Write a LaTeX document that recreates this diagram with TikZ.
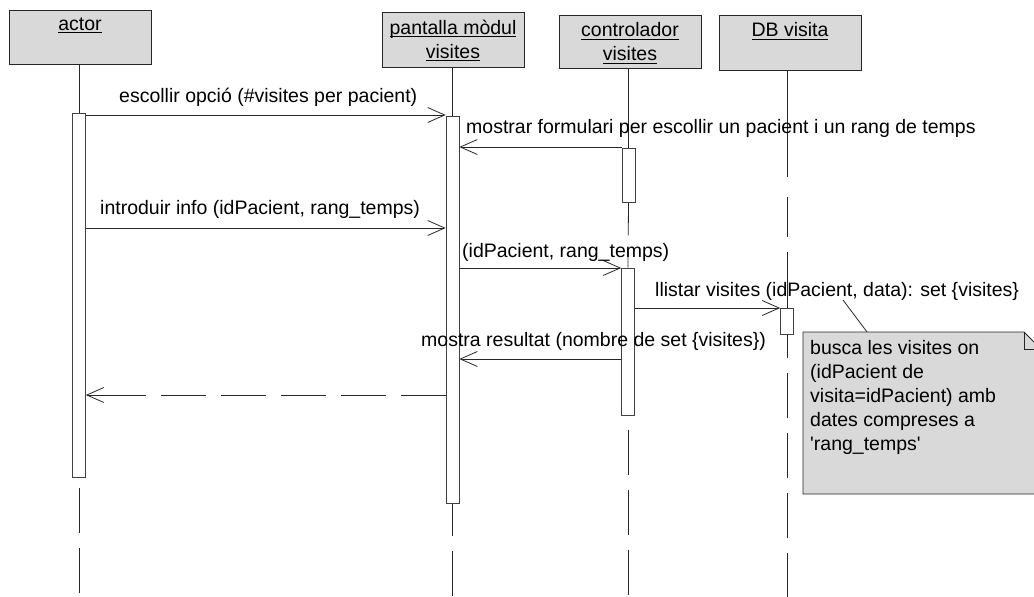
\documentclass[tikz,border=0pt]{standalone}
\usepackage{fontspec}
\setmainfont{Liberation Sans}
\newfontfamily\lsans{Liberation Sans}
\usetikzlibrary{arrows.meta}
\newcommand\uln[1]{\setbox0\hbox{#1}\rlap{\rule[-2.6pt]{\wd0}{0.9pt}}\box0}
\begin{document}
\begin{tikzpicture}[x=1pt,y=-1pt,
  every node/.style={font=\lsans\fontsize{19.5}{24}\selectfont},
  objbox/.style={draw=black!85, line width=0.9pt, fill=black!15, minimum width=142pt, minimum height=54pt, inner sep=0pt},
  objlabel/.style={anchor=north, yshift=-8pt, inner sep=0pt, align=center},
  actbar/.style={draw=black!75, line width=0.7pt, fill=white, minimum width=13pt, inner sep=0pt},
  life/.style={draw=black!85, line width=0.8pt},
  msg/.style={draw=black!85, line width=0.8pt, -{Straight Barb[length=17pt,width=15pt,line width=0.8pt]}},
  retdash/.style={draw=black!85, line width=0.8pt, dash pattern=on 45pt off 15pt},
  lbl/.style={anchor=west, inner sep=0pt, text height=14pt, text depth=4pt},
  notebox/.style={draw=black!85, line width=0.8pt, fill=black!15},
]
\useasboundingbox (0,0) rectangle (1034,597);
\fill[white] (0,0) rectangle (1034,597);
\clip (0,0) rectangle (1034,597);

% objects
\node[objbox, label={[objlabel]north:\uln{actor}}] (actor) at (80,37) {};
\node[objbox, minimum height=55pt, label={[objlabel]north:\uln{pantalla mòdul}\\\uln{visites}}] (pant) at (453,39.5) {};
\node[objbox, minimum height=53pt, label={[objlabel]north:\uln{controlador}\\\uln{visites}}] (ctrl) at (630,41.5) {};
\node[objbox, minimum height=55pt, label={[objlabel]north:\uln{DB visita}}] (db) at (790,42.5) {};

% activation bars
\node[actbar, minimum height=364pt] (actA) at (79,295) {};
\node[actbar, minimum height=387pt] (panA) at (452.5,309.5) {};
\node[actbar, minimum height=54pt] (ctlA1) at (628.5,175) {};
\node[actbar, minimum height=147pt] (ctlA2) at (628,341.5) {};
\node[actbar, minimum height=26pt] (dbA) at (787,321) {};

% lifeline ends
\coordinate (actEnd) at (79,597);
\coordinate (panEnd) at (452.5,597);
\coordinate (ctlEnd) at (628,597);
\coordinate (dbEnd) at (787,597);

% lifelines
\draw[life] (actor.south -| actA.north) -- (actA.north);
\draw[life, dash pattern=on 45pt off 15pt, dash phase=49pt] (actA.south) -- (actEnd);
\draw[life] (pant.south -| panA.north) -- (panA.north);
\draw[life, dash pattern=on 45pt off 15pt, dash phase=12pt] (panA.south) -- (panEnd);
\draw[life] (ctrl.south -| ctlA1.north) -- (ctlA1.north);
\draw[life, dash pattern=on 33pt off 16pt on 30pt off 0pt] (ctlA1.south) -- (ctlA2.north);
\draw[life, dash pattern=on 45pt off 15pt, dash phase=45pt] (ctlA2.south) -- (ctlEnd);
\draw[life, dash pattern=on 107pt off 20pt on 40pt off 15pt on 70pt off 0pt] (db.south -| dbA.north) -- (dbA.north);
\draw[life, dash pattern=on 45pt off 15pt, dash phase=21pt] (dbA.south) -- (dbEnd);

% redraw bars on top of lifelines
\node[actbar, minimum height=364pt] at (actA) {};
\node[actbar, minimum height=387pt] at (panA) {};
\node[actbar, minimum height=54pt] at (ctlA1) {};
\node[actbar, minimum height=147pt] at (ctlA2) {};
\node[actbar, minimum height=26pt] at (dbA) {};

% message levels
\coordinate (y1) at (0,115);
\coordinate (y2) at (0,147);
\coordinate (y3) at (0,228);
\coordinate (y4) at (0,268);
\coordinate (y5) at (0,308);
\coordinate (y6) at (0,359);
\coordinate (y7) at (0,395);
\coordinate (rx) at (140,395);

% messages
\draw[msg] (actA.east |- y1) -- (panA.west |- y1);
\node[lbl] (l1) at (119,97) {escollir opció (\#visites per pacient)};
\draw[msg] (ctlA1.west |- y2) -- (panA.east |- y2);
\node[lbl] (l2) at (466,128) {mostrar formulari per escollir un pacient i un rang de temps};
\draw[msg] (actA.east |- y3) -- (panA.west |- y3);
\node[lbl] (l3) at (100,209) {introduir info (idPacient, rang\_temps)};
\draw[msg] (panA.east |- y4) -- (ctlA2.west |- y4);
\node[lbl] (l4) at (462,252) {(idPacient, rang\_temps)};
\draw[msg] (ctlA2.east |- y5) -- (dbA.west |- y5);
\node[lbl] (l5) at (655,291) {llistar visites (idPacient, data): set \{visites\}};
\draw[msg] (ctlA2.west |- y6) -- (panA.east |- y6);
\node[lbl] (l6) at (421,341) {mostra resultat (nombre de set \{visites\})};
\draw[retdash] (panA.west |- y7) -- (rx);
\draw[msg] (rx) -- (actA.east |- y7);

% note
\coordinate (nA) at (803,332);
\coordinate (nB) at (1024,332);
\coordinate (nC) at (1041,349);
\coordinate (nD) at (1041,494);
\coordinate (nE) at (803,494);
\coordinate (nF) at (1024,349);
\draw[notebox] (nA) -- (nB) -- (nC) -- (nD) -- (nE) -- cycle;
\draw[draw=black!85, line width=0.8pt] (nB) -- (nF) -- (nC);
\node[anchor=north west, inner sep=0pt, align=left] (notetext) at (810,340)
  {busca les visites on\\(idPacient de\\visita=idPacient) amb\\dates compreses a\\'rang\_temps'};
\coordinate (nc) at (843,300);
\coordinate (nt) at (867,332);
\draw[draw=black!85, line width=0.8pt] (nc) -- (nt);
\end{tikzpicture}
\end{document}
